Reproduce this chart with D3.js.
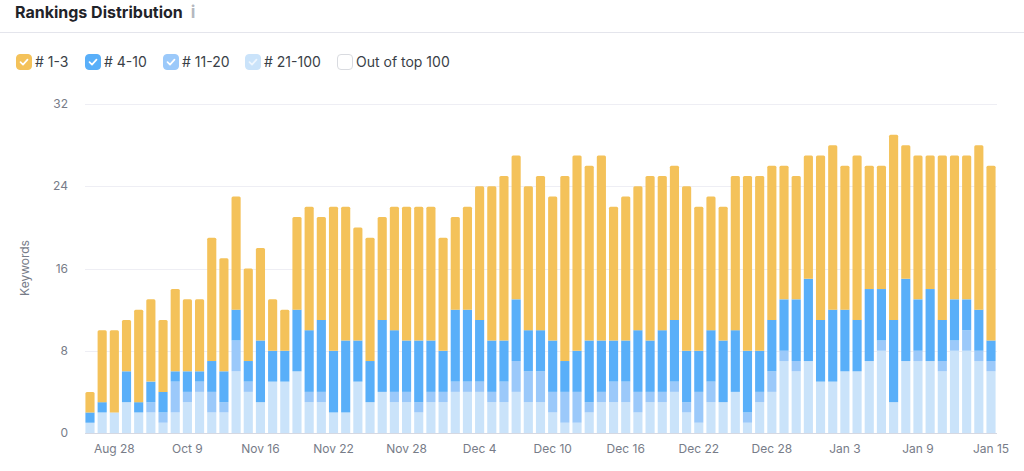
<!DOCTYPE html>
<html><head><meta charset="utf-8">
<script src="https://cdn.jsdelivr.net/npm/d3@7/dist/d3.min.js"></script>
<style>
html,body{margin:0;padding:0;background:#fff;overflow:hidden}
svg{display:block}
text{font-family:Inter,"Noto Sans",sans-serif}
</style></head><body>
<svg id="c" width="1024" height="471"></svg>
<script>
const rank21to100=[1,2,2,3,2,2,1,2,3,4,2,2,6,4,3,5,5,6,3,3,2,2,5,3,4,3,3,2,3,3,4,4,4,3,3,4,3,3,2,1,1,2,3,3,3,2,3,3,4,2,1,3,3,4,1,3,4,7,6,7,5,5,6,6,7,8,3,7,7,7,6,8,8,7,6];
const rank11to20=[0,0,0,0,0,1,1,3,1,1,2,1,3,1,0,0,0,0,1,1,0,0,0,0,0,1,1,1,1,1,1,1,1,1,2,3,3,3,2,3,3,1,1,2,2,2,1,1,1,1,3,2,0,0,1,1,2,1,1,0,0,0,0,0,0,1,0,0,1,0,1,1,2,1,1];
const rank4to10=[1,1,0,3,1,2,2,1,2,1,3,3,3,2,6,3,3,6,6,7,6,7,4,4,7,6,5,6,5,4,7,7,6,5,4,6,4,4,5,3,4,6,5,4,4,6,5,6,6,5,4,5,6,6,6,4,5,5,6,8,6,7,6,5,7,5,8,8,5,7,4,4,3,4,2];
const rank1to3=[2,7,8,5,9,8,7,8,7,7,12,11,11,9,9,5,4,9,12,10,14,13,11,12,10,12,13,13,13,11,9,10,13,15,16,14,14,15,14,18,19,17,18,13,14,14,16,15,15,16,14,13,13,15,17,17,15,13,12,12,16,16,14,16,12,12,18,13,14,13,16,14,14,16,17];
const tickLabels=["Aug 28","Oct 9","Nov 16","Nov 22","Nov 28","Dec 4","Dec 10","Dec 16","Dec 22","Dec 28","Jan 3","Jan 9","Jan 15"];
const yTicks=[0,8,16,24,32];
const seriesNames=["# 1-3","# 4-10","# 11-20","# 21-100","Out of top 100"];
const seriesColors=["#f4c25a","#59aff9","#9bc9fa","#cae3fa","#ffffff"];

const indices=rank1to3.map((_,i)=>i);
const tickIndex=new Map(tickLabels.map((t,k)=>[2+k*6,t]));
const rows=indices.map(i=>({i,r21:rank21to100[i],r11:rank11to20[i],r4:rank4to10[i],r1:rank1to3[i]}));
const keys=["r21","r11","r4","r1"];
const colorOf={r1:seriesColors[0],r4:seriesColors[1],r11:seriesColors[2],r21:seriesColors[3]};

const svg=d3.select("#c");
const x=d3.scaleBand().domain(indices).range([83.9,997.1]).paddingInner(0.25).paddingOuter(0.125);
const y=d3.scaleLinear().domain([0,32]).range([433,104]);

// header
svg.append("text").attr("x",15).attr("y",17.5).attr("font-size",16).attr("font-weight",700).attr("fill","#1f2329").text("Rankings Distribution");
svg.append("text").attr("x",193).attr("y",18).attr("text-anchor","middle").attr("font-size",17)
  .attr("font-family","'DejaVu Serif',serif").attr("font-weight",700).attr("fill","#b4b8c0").text("i");
svg.append("line").attr("x1",0).attr("x2",1024).attr("y1",32.5).attr("y2",32.5).attr("stroke","#e4e5ec");

// legend
const legendX=[16,85,163,245,337];
const lg=svg.append("g").selectAll("g").data(seriesNames).join("g").attr("transform",(d,i)=>`translate(${legendX[i]},54)`);
lg.append("rect").attr("x",.5).attr("y",.5).attr("width",15).attr("height",15).attr("rx",3.5)
  .attr("fill",(d,i)=>seriesColors[i]).attr("stroke",(d,i)=>i===4?"#d9dbe0":seriesColors[i]);
lg.filter((d,i)=>i<4).append("path").attr("d","M4.5 8.2 L7 10.6 L11.5 5.6").attr("fill","none")
  .attr("stroke",(d,i)=>i===3?"#eef6fe":"#fff").attr("stroke-width",1.7).attr("stroke-linecap","round").attr("stroke-linejoin","round");
lg.append("text").attr("x",19).attr("y",13).attr("font-size",14).attr("fill","#3a3f47").text(d=>d);

// grid and y axis
const yAxis=d3.axisLeft(y).tickValues(yTicks).tickSize(0).tickPadding(0);
const gy=svg.append("g").attr("transform","translate(68,0)").call(yAxis);
gy.select(".domain").remove();
gy.selectAll("text").attr("font-size",12).attr("fill","#777c88").attr("font-family","Inter,sans-serif").attr("dy","0.3em");
svg.append("g").selectAll("line").data(yTicks).join("line")
  .attr("x1",85).attr("x2",997).attr("y1",d=>Math.round(y(d))+.5).attr("y2",d=>Math.round(y(d))+.5)
  .attr("stroke",d=>d===0?"#d5d8e2":"#eeeef4");
svg.append("text").attr("transform","translate(29,268) rotate(-90)").attr("text-anchor","middle").attr("font-size",12).attr("fill","#777c88").text("Keywords");

// bars
const stacked=d3.stack().keys(keys)(rows);
svg.append("g").selectAll("g").data(stacked).join("g").attr("fill",s=>colorOf[s.key])
  .each(function(s){
    const isTop=s.key==="r1";
    d3.select(this).selectAll(isTop?"path":"rect").data(s.filter(d=>d[1]>d[0])).join(isTop?"path":"rect")
      .each(function(d){
        const n=d3.select(this),bx=x(d.data.i),bw=x.bandwidth(),t=y(d[1]),b=y(d[0]);
        if(isTop){
          const r=1.5,p=d3.path();
          p.moveTo(bx,b);p.lineTo(bx,t+r);p.quadraticCurveTo(bx,t,bx+r,t);p.lineTo(bx+bw-r,t);p.quadraticCurveTo(bx+bw,t,bx+bw,t+r);p.lineTo(bx+bw,b);p.closePath();
          n.attr("d",p.toString());
        } else {
          n.attr("x",bx).attr("y",t).attr("width",bw).attr("height",b-t);
        }
      });
  });

// x axis
const xAxis=d3.axisBottom(x).tickValues([...tickIndex.keys()]).tickFormat(i=>tickIndex.get(i)).tickSize(0).tickPadding(0);
const gx=svg.append("g").attr("transform","translate(0,444)").call(xAxis);
gx.select(".domain").remove();
gx.selectAll("text").attr("font-size",12).attr("fill","#777c88").attr("font-family","Inter,sans-serif").attr("dy","0.71em");
</script>
</body></html>
